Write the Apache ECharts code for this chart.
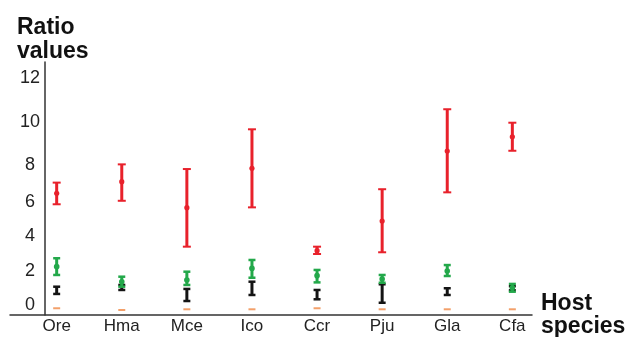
<!DOCTYPE html>
<html>
<head>
<meta charset="utf-8">
<script src="https://cdn.jsdelivr.net/npm/echarts@6/dist/echarts.min.js"></script>
<style>html,body{margin:0;padding:0;background:#fff}#c{width:629px;height:337px}</style>
</head>
<body>
<div id="c"></div>
<script>
const categories = ['Ore','Hma','Mce','Ico','Ccr','Pju','Gla','Cfa'];
const redMean  = [6.46, 7.09, 5.65, 7.82, 3.16, 4.87, 8.66, 9.33];
const redLow   = [5.85, 6.05, 3.39, 5.67, 2.97, 3.07, 6.51, 8.67];
const redHigh  = [7.04, 8.03, 7.78, 9.68, 3.39, 6.68, 10.6, 9.99];
const greenMean = [2.25, 1.38, 1.48, 2.15, 1.73, 1.54, 2.00, 1.03];
const greenLow  = [1.77, 1.09, 1.19, 1.61, 1.34, 1.32, 1.71, 0.80];
const greenHigh = [2.73, 1.67, 1.96, 2.63, 2.06, 1.77, 2.34, 1.25];
const blackMean = [0.90, 1.04, 0.61, 1.01, 0.63, 0.70, 0.80, 1.00];
const blackLow  = [0.67, 0.90, 0.26, 0.61, 0.36, 0.16, 0.61, 0.88];
const blackHigh = [1.09, 1.19, 0.96, 1.38, 0.90, 1.23, 1.00, 1.12];
const orangeMean = [-0.16, -0.26, -0.22, -0.22, -0.16, -0.22, -0.22, -0.22];

// printed y tick labels and where they sit on the (irregularly printed) axis
const yTickLabels = [0, 2, 4, 6, 8, 10, 12];
const yTickPos    = [9.5, 44, 79, 113.3, 150, 192.5, 236.7];

function toAxis(v) {
  let i = 0;
  while (i < yTickLabels.length - 2 && v > yTickLabels[i + 1]) i++;
  const a = yTickLabels[i], b = yTickLabels[i + 1];
  const pa = yTickPos[i], pb = yTickPos[i + 1];
  return pa + (v - a) * (pb - pa) / (b - a);
}

function build(mean, low, high) {
  return categories.map((c, i) => [i,
    toAxis(low ? low[i] : mean[i]),
    toAxis(high ? high[i] : mean[i]),
    toAxis(mean[i])]);
}

function errRender(color, lw, capW, capLw, markR) {
  return function (params, api) {
    const x = api.value(0);
    const lo = api.coord([x, api.value(1)]);
    const hi = api.coord([x, api.value(2)]);
    const mid = api.coord([x, api.value(3)]);
    const st = { stroke: color, lineWidth: lw };
    const cs = { stroke: color, lineWidth: capLw };
    const ch = [
      { type: 'line', shape: { x1: lo[0], y1: lo[1], x2: hi[0], y2: hi[1] }, style: st },
      { type: 'line', shape: { x1: hi[0] - capW / 2, y1: hi[1], x2: hi[0] + capW / 2, y2: hi[1] }, style: cs },
      { type: 'line', shape: { x1: lo[0] - capW / 2, y1: lo[1], x2: lo[0] + capW / 2, y2: lo[1] }, style: cs }
    ];
    if (markR > 0) ch.push({ type: 'circle', shape: { cx: mid[0], cy: mid[1], r: markR }, style: { fill: color } });
    return { type: 'group', children: ch };
  };
}

function dashRender(color) {
  return function (params, api) {
    const p = api.coord([api.value(0), api.value(3)]);
    return { type: 'line', shape: { x1: p[0] - 3.5, y1: p[1], x2: p[0] + 3.5, y2: p[1] }, style: { stroke: color, lineWidth: 2 } };
  };
}

const chart = echarts.init(document.getElementById('c'), null, { renderer: 'canvas' });
const font = 'Liberation Sans, Arial, sans-serif';
chart.setOption({
  animation: false,
  backgroundColor: '#fff',
  title: [
    { text: 'Ratio\nvalues', left: 12, top: 11, textStyle: { fontFamily: font, fontSize: 23, fontWeight: 'bold', color: '#111', lineHeight: 24 } },
    { text: 'Host\nspecies', left: 536, top: 287, textStyle: { fontFamily: font, fontSize: 23, fontWeight: 'bold', color: '#111', lineHeight: 23 } }
  ],
  grid: { left: 10, right: 97, top: 62, bottom: 22, containLabel: false },
  xAxis: {
    type: 'value', min: -0.717, max: 7.302,
    axisLine: { onZero: false, lineStyle: { color: '#333', width: 1.5 } },
    axisTick: { show: false },
    splitLine: { show: false },
    axisLabel: {
      customValues: categories.map((c, i) => i),
      formatter: v => categories[Math.round(v)] || '',
      margin: 3, fontFamily: font, fontSize: 17, color: '#222'
    }
  },
  yAxis: {
    type: 'value', min: 0, max: 253, offset: -35,
    axisLine: { show: true, onZero: false, lineStyle: { color: '#333', width: 1.5 } },
    axisTick: { show: false },
    splitLine: { show: false },
    axisLabel: {
      customValues: yTickPos,
      formatter: (v) => {
        let k = 0, d = 1e9;
        yTickPos.forEach((p, i) => { if (Math.abs(p - v) < d) { d = Math.abs(p - v); k = i; } });
        return String(yTickLabels[k]);
      },
      align: 'center', margin: 15, fontFamily: font, fontSize: 18, color: '#222'
    }
  },
  series: [
    { type: 'custom', name: 'black', renderItem: errRender('#141414', 3, 7, 2.5, 0), data: build(blackMean, blackLow, blackHigh), encode: { x: 0, y: [1, 2, 3] } },
    { type: 'custom', name: 'green', renderItem: errRender('#23a84a', 3, 7, 2.5, 2.8), data: build(greenMean, greenLow, greenHigh), encode: { x: 0, y: [1, 2, 3] } },
    { type: 'custom', name: 'red', renderItem: errRender('#e8212b', 3, 8, 2, 2.6), data: build(redMean, redLow, redHigh), encode: { x: 0, y: [1, 2, 3] } },
    { type: 'custom', name: 'orange', renderItem: dashRender('#f3a06a'), data: build(orangeMean), encode: { x: 0, y: [1, 2, 3] } }
  ]
});
</script>
</body>
</html>
